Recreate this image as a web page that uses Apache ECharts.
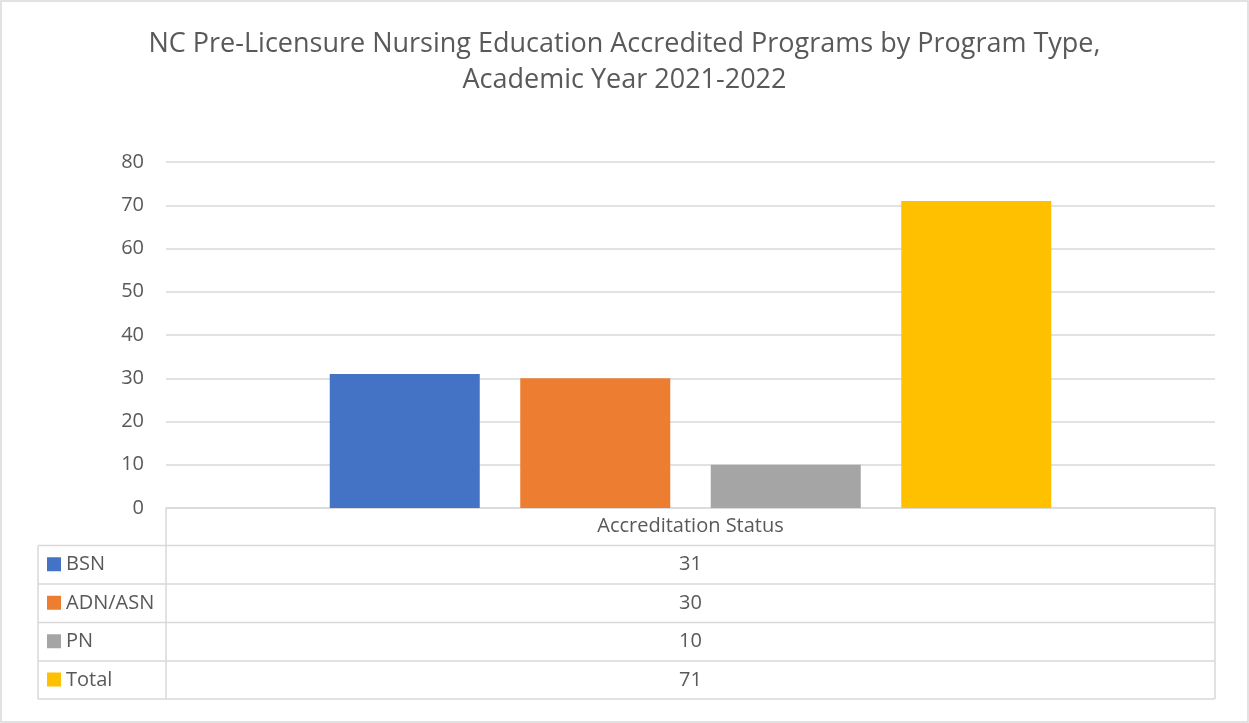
<!DOCTYPE html>
<html style="height: 100%">
  <head>
    <meta charset="UTF-8">
  </head>
  <body style="height: 100%; margin: 0">
    <div id="container" style="width: 1249px; height: 723px"></div>
    <script src="https://cdn.jsdelivr.net/npm/echarts@6/dist/echarts.min.js"></script>
    <script>
    var category = ['Accreditation Status'];
    var seriesNames = ['BSN', 'ADN/ASN', 'PN', 'Total'];
    var seriesValues = [31, 30, 10, 71];
    var colors = ['#4472c4', '#ed7d31', '#a5a5a5', '#ffc000'];
    var yTicks = [0, 80, 10];

    var chart = echarts.init(document.getElementById('container'), null, { renderer: 'canvas' });

    // layout of plot and the data table below it
    var W = 1249, H = 723;
    var plotLeft = 166, plotRight = 1215, plotTop = 162, plotBottom = 508;
    var tableLeft = 38;
    var rowLines = [545.5, 584, 622.5, 661, 699];
    var lineColor = '#d9d9d9';
    var font = '"Open Sans", "Noto Sans", sans-serif';
    var textSize = 20;

    var graphic = [];
    graphic.push({ type: 'rect', shape: { x: 1, y: 1, width: W - 2, height: H - 2 },
      style: { fill: 'none', stroke: lineColor, lineWidth: 1.5 } });
    graphic.push({ type: 'line', shape: { x1: plotLeft, y1: plotBottom, x2: plotLeft, y2: rowLines[rowLines.length - 1] },
      style: { stroke: lineColor, lineWidth: 1.5 } });
    graphic.push({ type: 'line', shape: { x1: plotRight, y1: plotBottom, x2: plotRight, y2: rowLines[rowLines.length - 1] },
      style: { stroke: lineColor, lineWidth: 1.5 } });
    graphic.push({ type: 'line', shape: { x1: tableLeft, y1: rowLines[0], x2: tableLeft, y2: rowLines[rowLines.length - 1] },
      style: { stroke: lineColor, lineWidth: 1.5 } });
    rowLines.forEach(function (y) {
      graphic.push({ type: 'line', shape: { x1: tableLeft, y1: y, x2: plotRight, y2: y },
        style: { stroke: lineColor, lineWidth: 1.5 } });
    });
    // table rows: legend key + value
    seriesValues.forEach(function (v, i) {
      var cy = (rowLines[i] + rowLines[i + 1]) / 2;
      graphic.push({ type: 'rect', shape: { x: 47, y: cy - 7.5, width: 14, height: 14 },
        style: { fill: colors[i] } });
      graphic.push({ type: 'text', x: 66, y: cy,
        style: { text: seriesNames[i], fill: '#595959', fontSize: textSize, fontFamily: font, align: 'left', verticalAlign: 'middle' } });
      graphic.push({ type: 'text', x: (plotLeft + plotRight) / 2, y: cy,
        style: { text: String(v), fill: '#595959', fontSize: textSize, fontFamily: font, align: 'center', verticalAlign: 'middle' } });
    });

    var option = {
      animation: false,
      backgroundColor: '#fff',
      title: {
        text: 'NC Pre-Licensure Nursing Education Accredited Programs by Program Type,\nAcademic Year 2021-2022',
        left: 'center',
        top: 21,
        textStyle: { color: '#595959', fontSize: 27, fontWeight: 'normal', fontFamily: font, lineHeight: 36 }
      },
      grid: { left: plotLeft, right: W - plotRight, top: plotTop, bottom: H - plotBottom },
      xAxis: {
        type: 'category',
        data: category,
        axisTick: { show: false },
        axisLine: { lineStyle: { color: lineColor, width: 1.5 } },
        axisLabel: { color: '#595959', fontSize: textSize, fontFamily: font, margin: 8 }
      },
      yAxis: {
        type: 'value',
        min: yTicks[0],
        max: yTicks[1],
        interval: yTicks[2],
        axisLine: { show: false },
        axisTick: { show: false },
        axisLabel: { color: '#595959', fontSize: textSize, fontFamily: font, margin: 22 },
        splitLine: { lineStyle: { color: lineColor, width: 1.5 } }
      },
      series: seriesNames.map(function (name, i) {
        return {
          name: name,
          type: 'bar',
          barWidth: 150,
          barGap: '27%',
          itemStyle: { color: colors[i] },
          data: [seriesValues[i]]
        };
      }),
      graphic: graphic
    };

    chart.setOption(option);
    window.addEventListener('resize', chart.resize);
    </script>
  </body>
</html>
